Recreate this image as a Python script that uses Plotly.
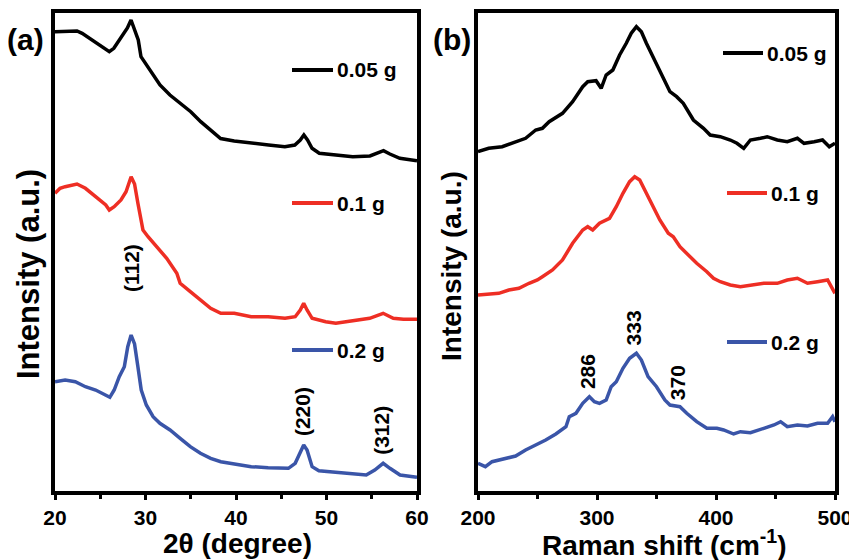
import plotly.graph_objects as go

# ---------------- XRD data (panel a) ----------------
xrd_x_black = [20, 21.12, 22.43, 23, 24.1, 25.2, 26, 26.5, 27.1, 27.6, 28.0, 28.4, 28.8, 29.2, 29.5, 30.1, 30.8, 31.6, 32.7, 33.8, 35.0, 36.1, 37.2, 38.3, 39.8, 41.7, 43.6, 45.4, 46.5, 47.1, 47.5, 47.9, 48.4, 49.2, 51.0, 52.9, 54.8, 55.7, 56.3, 57.0, 58.1, 60]
xrd_y_black = [460.3, 460.3, 461, 458.7, 452, 445.3, 440.3, 443.7, 452, 458, 464, 472, 463, 452, 435.3, 427, 417, 407, 397, 388.7, 380.3, 370.3, 362, 353.5, 351, 348.7, 347, 345.3, 347, 352, 357, 352, 343.7, 338.7, 337, 335.3, 336, 339.3, 341.3, 338, 333.7, 331.3]

xrd_x_red = [20, 20.56, 21.12, 22.43, 23.36, 24.49, 25.61, 26.0, 26.54, 27.29, 27.85, 28.41, 28.79, 29.16, 29.72, 30.28, 31.21, 32.34, 33.46, 33.83, 34.95, 36.07, 37.20, 38.32, 39.81, 41.68, 43.55, 45.42, 46.54, 47.10, 47.48, 47.85, 48.41, 49.91, 51.03, 52.90, 54.77, 56.26, 57.38, 58.50, 60]
xrd_y_red = [298.7, 303.7, 305.3, 308, 303.7, 295.3, 287, 282, 285.3, 292, 300.3, 315.3, 308, 288.7, 262, 255.3, 245.3, 233.7, 218.7, 208.7, 200.3, 192, 183.7, 178.7, 178.7, 175.3, 175.3, 173.7, 175.3, 182, 188.7, 182, 173.7, 170.3, 168.7, 171.3, 173.7, 178.7, 173.7, 172.7, 172.7]

xrd_x_blue = [20, 21.12, 22.24, 23.36, 24.49, 25.61, 26.06, 26.54, 27.10, 27.66, 28.04, 28.41, 28.79, 29.16, 29.53, 30.09, 30.84, 31.59, 32.71, 33.83, 34.95, 36.07, 37.20, 38.32, 39.81, 41.68, 43.55, 45.79, 46.54, 47.10, 47.48, 47.85, 48.41, 49.16, 51.03, 52.90, 54.39, 55.33, 56.26, 57.01, 58.13, 60]
xrd_y_blue = [110.3, 112, 110.3, 105.3, 102, 97, 94.7, 102, 115.3, 125.3, 145.3, 157, 148, 125.3, 102, 87, 75.3, 68.7, 62, 53.7, 45.3, 38.7, 33.7, 30.3, 28, 25.3, 24.3, 23.7, 28.7, 40.3, 47, 42, 25.3, 21.3, 19.7, 18, 17, 22, 28.7, 23.7, 17, 14.7]

# ---------------- Raman data (panel b) ----------------
ram_x_black = [200, 209, 220.3, 231.6, 240, 248.5, 254.1, 259.8, 271, 279.5, 288, 292.2, 299.2, 303.5, 307.7, 313.3, 319, 324.6, 328.8, 333.1, 337.3, 341.5, 347.2, 352.8, 361.3, 366.9, 372.5, 381, 389.5, 395.1, 403.6, 412, 417.6, 423.3, 428.9, 437.4, 443, 451.5, 459.9, 468.4, 474, 482.5, 489.5, 495.2, 500]
ram_y_black = [340.3, 343.7, 345.3, 350.3, 353.7, 362, 363.7, 370.3, 378.7, 390.3, 405.3, 410.3, 411.3, 403.7, 417, 422, 437, 448.7, 458.7, 465.3, 460.3, 448.7, 435.3, 422, 400.3, 395.3, 388.7, 372, 363.7, 357, 355.3, 352, 348.7, 343.7, 352, 353.7, 355.3, 352, 350.3, 353.7, 348.7, 350.3, 352, 345.3, 348.7]

ram_x_red = [200, 209, 217.5, 225.9, 234.4, 242.9, 249.9, 254.1, 262.6, 271, 279.5, 288, 292.2, 296.4, 302.1, 310.5, 316.2, 321.8, 327.4, 331.7, 335.9, 341.5, 347.2, 352.8, 359.9, 364.1, 369.7, 375.4, 383.8, 392.3, 397.9, 403.6, 412, 420.5, 428.9, 440.2, 451.5, 459.9, 468.4, 476.9, 485.3, 493.8, 500]
ram_y_red = [197, 198, 198.7, 202, 203.7, 208.7, 212, 215.3, 222, 232, 248.7, 262, 265.3, 262, 268.7, 273.7, 285.3, 298.7, 310.3, 315.3, 312, 298.7, 285.3, 272, 258.7, 255.3, 245.3, 238.7, 228.7, 220.3, 213.7, 210.3, 207, 205.3, 207, 208.7, 208.7, 212, 213.7, 208.7, 210.3, 212, 198.7]

ram_x_blue = [200, 206.2, 211.8, 220.3, 231.6, 240, 248.5, 256.9, 265.4, 273.9, 276.7, 282.3, 288, 293.6, 297.8, 302.1, 307.7, 311.9, 316.2, 321.8, 327.4, 333.1, 337.3, 342.9, 350, 357, 361.3, 369.7, 375.4, 383.8, 392.3, 400.7, 406.4, 414.8, 420.5, 428.9, 440.2, 448.7, 454.3, 459.9, 468.4, 476.9, 485.3, 493.8, 498, 500]
ram_y_blue = [28.7, 25.3, 30.3, 32.7, 36, 42, 47, 52, 58, 65.3, 75.3, 78.7, 88.7, 95.3, 90.3, 88.7, 92, 105.3, 110.3, 123.7, 133.7, 138.7, 132, 115.3, 105.3, 92, 87, 85.3, 78.7, 70.3, 63.7, 63.7, 62, 58, 60.3, 59.3, 63.7, 67, 70.3, 65.3, 67, 66, 68.7, 68.7, 75.3, 70.3]

series_names = ["0.05 g", "0.1 g", "0.2 g"]
colors = ["#000000", "#ee2e24", "#3a55a8"]

xrd_peaks_x = [28.4, 47.3, 56.0]
xrd_peaks_label = ["(112)", "(220)", "(312)"]
xrd_label_y = [224, 80, 62]

raman_peaks_x = [291.7, 331, 367.8]
raman_peaks_label = ["286", "333", "370"]
raman_label_y = [120, 164.5, 109.5]

xrd_ticks = [20, 30, 40, 50, 60]
raman_ticks = [200, 300, 400, 500]

FONT = "Liberation Sans, Arial, sans-serif"

fig = go.Figure()

xrd = [(xrd_x_black, xrd_y_black), (xrd_x_red, xrd_y_red), (xrd_x_blue, xrd_y_blue)]
ram = [(ram_x_black, ram_y_black), (ram_x_red, ram_y_red), (ram_x_blue, ram_y_blue)]

for (x, y), name, c in zip(xrd, series_names, colors):
    fig.add_trace(go.Scatter(x=x, y=y, mode="lines", name=name,
                             line=dict(color=c, width=3.5), xaxis="x", yaxis="y",
                             showlegend=False))
for (x, y), name, c in zip(ram, series_names, colors):
    fig.add_trace(go.Scatter(x=x, y=y, mode="lines", name=name,
                             line=dict(color=c, width=3.5), xaxis="x2", yaxis="y2",
                             showlegend=False))

# page body has an 8px offset; size figure so the plot lands on the reference pixels
OFF = 8
W, H = 857 - OFF, 560 - OFF
ml, mr, mt, mb = 55 - OFF, 22, 13 - OFF, 69
pw, ph = W - ml - mr, H - mt - mb
PL, PB = 55, 491  # plot-area left / bottom in reference pixels

def px(xpix):
    return (xpix - PL) / pw

def py(ypix):
    return (PB - ypix) / ph

ax_common = dict(showline=True, linewidth=4, linecolor="black", mirror=True,
                 showgrid=False, zeroline=False, automargin=False)
tickfont = dict(family=FONT, size=21, color="black", weight="bold")

fig.update_layout(
    width=W, height=H,
    margin=dict(l=ml, r=mr, t=mt, b=mb),
    plot_bgcolor="white", paper_bgcolor="white",
    xaxis=dict(domain=[0, px(417)], range=[20, 60],
               tickvals=xrd_ticks, ticktext=[f"<b>{t}</b>" for t in xrd_ticks],
               ticks="outside", ticklen=5, tickwidth=3, tickcolor="black",
               minor=dict(dtick=5, ticks="outside", ticklen=4, tickwidth=3, tickcolor="black"),
               tickfont=tickfont, **ax_common),
    yaxis=dict(domain=[0, 1], range=[1, 479], showticklabels=False, ticks="", anchor="x",
               **ax_common),
    xaxis2=dict(domain=[px(478), 1], range=[200, 500],
                tickvals=raman_ticks, ticktext=[f"<b>{t}</b>" for t in raman_ticks],
                ticks="outside", ticklen=5, tickwidth=3, tickcolor="black",
                minor=dict(dtick=50, ticks="outside", ticklen=4, tickwidth=3, tickcolor="black"),
                tickfont=tickfont, anchor="y2", **ax_common),
    yaxis2=dict(domain=[0, 1], range=[1, 479], showticklabels=False, ticks="", anchor="x2",
                **ax_common),
)

ann = []
# x axis titles
for txt, xp in [("2θ (degree)", 237.5), ("Raman shift (cm<sup>-1</sup>)", 664)]:
    ann.append(dict(text=txt, x=px(xp), y=py(543), xref="paper", yref="paper",
                    showarrow=False, xanchor="center", yanchor="middle",
                    font=dict(family=FONT, size=28, color="black", weight="bold")))
# y axis titles
for xp, yp, sz in [(28, 274, 31), (451, 266, 28)]:
    ann.append(dict(text="Intensity (a.u.)", x=px(xp), y=py(yp), xref="paper", yref="paper",
                    textangle=-90, showarrow=False, xanchor="center", yanchor="middle",
                    font=dict(family=FONT, size=sz, color="black", weight="bold")))
# panel labels
for lab, xp in [("(a)", 25), ("(b)", 452)]:
    ann.append(dict(text=lab, x=px(xp), y=py(40), xref="paper", yref="paper",
                    showarrow=False, xanchor="center", yanchor="middle",
                    font=dict(family=FONT, size=30, color="black", weight="bold")))
# peak labels
for xv, lab, yv in zip(xrd_peaks_x, xrd_peaks_label, xrd_label_y):
    ann.append(dict(text=lab, x=xv, y=yv, xref="x", yref="y", textangle=-90, showarrow=False,
                    xanchor="center", yanchor="middle",
                    font=dict(family=FONT, size=21, color="black", weight="bold")))
for xv, lab, yv in zip(raman_peaks_x, raman_peaks_label, raman_label_y):
    ann.append(dict(text=lab, x=xv, y=yv, xref="x2", yref="y2", textangle=-90, showarrow=False,
                    xanchor="center", yanchor="middle",
                    font=dict(family=FONT, size=21, color="black", weight="bold")))

# in-plot legend entries
shapes = []
leg_a = [(70, 292, 333), (203, 292, 333), (350, 292, 333)]
leg_b = [(53, 723, 763), (193, 727, 767), (342, 727, 767)]
for entries in (leg_a, leg_b):
    for (yv, x0, x1), name, c in zip(entries, series_names, colors):
        shapes.append(dict(type="line", xref="paper", yref="paper",
                           x0=px(x0), x1=px(x1), y0=py(yv), y1=py(yv),
                           line=dict(color=c, width=4)))
        ann.append(dict(text=name, x=px(x1 + 2), y=py(yv), xref="paper", yref="paper",
                        showarrow=False, xanchor="left", yanchor="middle",
                        font=dict(family=FONT, size=21, color="black", weight="bold")))

fig.update_layout(annotations=ann, shapes=shapes)
fig.write_html("out.html")
